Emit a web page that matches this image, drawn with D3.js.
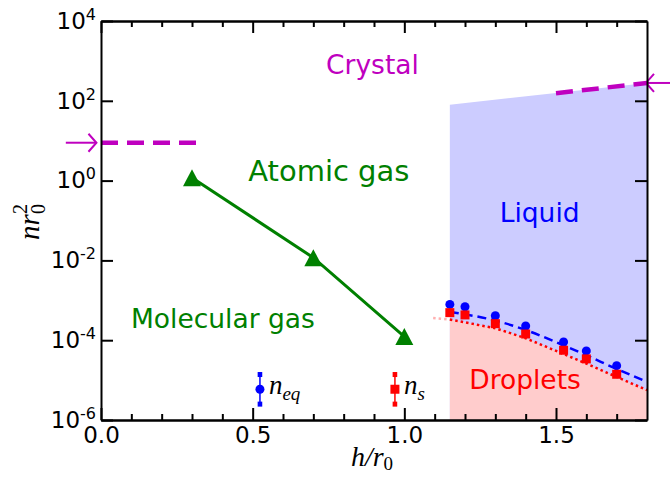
<!DOCTYPE html>
<html><head><meta charset="utf-8">
<script src="https://cdn.jsdelivr.net/npm/d3@7"></script>
<style>body{margin:0;background:#fff}svg{display:block}</style>
</head><body><svg id="c" width="670" height="478"></svg>
<script>
// ---------- data ----------
const xTicks = [0, 0.5, 1.0, 1.5];
const xTickLabels = ["0.0", "0.5", "1.0", "1.5"];
const xMinorTicks = [0.1,0.2,0.3,0.4,0.6,0.7,0.8,0.9,1.1,1.2,1.3,1.4,1.6,1.7];
const yTicks = [1e4, 1e2, 1e0, 1e-2, 1e-4, 1e-6];
const yTickExp = ["4", "2", "0", "-2", "-4", "-6"];

const atomicH = [0.3, 0.7, 1.0];
const atomicN = [1.18, 0.0117, 1.23e-4];

const pointH = [1.15, 1.2, 1.3, 1.4, 1.525, 1.6, 1.7];
const eqN = [7.9e-4, 6.9e-4, 4.1e-4, 2.27e-4, 9.0e-5, 5.4e-5, 2.3e-5];
const sN  = [4.9e-4, 4.3e-4, 2.6e-4, 1.43e-4, 5.6e-5, 3.4e-5, 1.4e-5];

const eqFitH = [1.15, 1.3, 1.4, 1.525, 1.6, 1.7, 1.8];
const eqFitN = [5.1e-4, 3.1e-4, 1.8e-4, 7.4e-5, 4.2e-5, 1.9e-5, 9.1e-6];
const sFitH = [1.15, 1.3, 1.4, 1.525, 1.6, 1.7, 1.8];
const sFitN = [3.3e-4, 2.0e-4, 1.12e-4, 4.5e-5, 2.6e-5, 1.2e-5, 5.6e-6];
const sFitExtH = [1.095, 1.15];
const sFitExtN = [3.6e-4, 3.3e-4];

const liquidTopH = [1.15, 1.8];
const liquidTopN = [80, 280];
const crystalRightH = [1.5, 1.8];
const crystalRightN = [155, 280];
const crystalLeftH = [0, 0.32];
const crystalLeftN = [8.9, 8.9];

const legendEq = {h: 0.524, n: 5.9e-6, lo: 2.5e-6, hi: 1.38e-5};
const legendS  = {h: 0.969, n: 5.9e-6, lo: 2.5e-6, hi: 1.38e-5};

const regionLabels = [
  {text: "Crystal", h: 0.895, n: 470, color: "#bf00bf", size: 26.5},
  {text: "Atomic gas", h: 0.751, n: 1.0, color: "#008000", size: 29},
  {text: "Liquid", h: 1.446, n: 0.091, color: "#0000ff", size: 26.5},
  {text: "Molecular gas", h: 0.402, n: 2.0e-4, color: "#008000", size: 26.5},
  {text: "Droplets", h: 1.398, n: 6.0e-6, color: "#ff0000", size: 26.5}
];

// ---------- setup ----------
const W = 670, H = 478;
const x0 = 101, x1 = 647, yTop = 21, yBot = 420;
const svg = d3.select("#c");
const x = d3.scaleLinear().domain([0, 1.8]).range([x0, x1]);
const y = d3.scaleLog().domain([1e-6, 1e4]).range([yBot, yTop]);
const MAG = "#bf00bf";

svg.append("defs").append("clipPath").attr("id", "clip")
  .append("rect").attr("x", x0).attr("y", yTop).attr("width", x1 - x0).attr("height", yBot - yTop);
const plot = svg.append("g").attr("clip-path", "url(#clip)");

// liquid region (blue)
const liqArea = d3.area().x(d => x(d[0])).y0(y(1e-6)).y1(d => y(d[1]));
plot.append("path").datum(liquidTopH.map((h, i) => [h, liquidTopN[i]]))
  .attr("d", liqArea).attr("fill", "#ccccff");
// droplets region (pink)
plot.append("path").datum(sFitH.map((h, i) => [h, sFitN[i]]))
  .attr("d", liqArea).attr("fill", "#ffcccc");

const line = d3.line().x(d => x(d[0])).y(d => y(d[1]));

// crystal dashed lines
plot.append("path").datum(crystalLeftH.map((h, i) => [h, crystalLeftN[i]]))
  .attr("d", line).attr("fill", "none").attr("stroke", MAG).attr("stroke-width", 4.5)
  .attr("stroke-dasharray", "17,9");
plot.append("path").datum(crystalRightH.map((h, i) => [h, crystalRightN[i]]))
  .attr("d", line).attr("fill", "none").attr("stroke", MAG).attr("stroke-width", 4.5)
  .attr("stroke-dasharray", "17,9");

// fits
plot.append("path").datum(eqFitH.map((h, i) => [h, eqFitN[i]]))
  .attr("d", d3.line().x(d => x(d[0])).y(d => y(d[1])).curve(d3.curveMonotoneX))
  .attr("fill", "none").attr("stroke", "#0000ff")
  .attr("stroke-width", 2.5).attr("stroke-dasharray", "9,5");
plot.append("path").datum(sFitExtH.map((h, i) => [h, sFitExtN[i]]))
  .attr("d", line).attr("fill", "none").attr("stroke", "#ffb0b0")
  .attr("stroke-width", 2.5).attr("stroke-dasharray", "2.5,3");
plot.append("path").datum(sFitH.map((h, i) => [h, sFitN[i]]))
  .attr("d", line).attr("fill", "none").attr("stroke", "#ff0000")
  .attr("stroke-width", 2.5).attr("stroke-dasharray", "2.5,3");

// atomic gas line + triangles
svg.append("path").datum(atomicH.map((h, i) => [h, atomicN[i]]))
  .attr("d", line).attr("fill", "none").attr("stroke", "#008000").attr("stroke-width", 3);
svg.selectAll(".tri").data(atomicH.map((h, i) => [h, atomicN[i]])).enter().append("path")
  .attr("transform", d => `translate(${x(d[0])},${y(d[1])})`)
  .attr("d", "M0,-8.5L9,8.5L-9,8.5Z").attr("fill", "#008000");

// data points
svg.selectAll(".eq").data(pointH.map((h, i) => [h, eqN[i]])).enter().append("circle")
  .attr("cx", d => x(d[0])).attr("cy", d => y(d[1])).attr("r", 4.5).attr("fill", "#0000ff");
svg.selectAll(".s").data(pointH.map((h, i) => [h, sN[i]])).enter().append("rect")
  .attr("x", d => x(d[0]) - 4.5).attr("y", d => y(d[1]) - 4.5).attr("width", 9).attr("height", 9)
  .attr("fill", "#ff0000");

// legend-like markers with error bars
function errMarker(o, color, shape) {
  const cx = x(o.h);
  svg.append("line").attr("x1", cx).attr("x2", cx).attr("y1", y(o.lo)).attr("y2", y(o.hi))
    .attr("stroke", color).attr("stroke-width", 1.5);
  [o.lo, o.hi].forEach(v => svg.append("rect").attr("x", cx - 2.3).attr("y", y(v) - 2.5)
    .attr("width", 4.6).attr("height", 5).attr("fill", color));
  if (shape === "circle") svg.append("circle").attr("cx", cx).attr("cy", y(o.n)).attr("r", 4.5).attr("fill", color);
  else svg.append("rect").attr("x", cx - 4.5).attr("y", y(o.n) - 4.5).attr("width", 9).attr("height", 9).attr("fill", color);
}
errMarker(legendEq, "#0000ff", "circle");
errMarker(legendS, "#ff0000", "square");

const SERIF = "'Liberation Serif', 'Times New Roman', serif";
function mathLabel(xp, yp, main, sub) {
  const t = svg.append("text").attr("x", xp).attr("y", yp).attr("font-family", SERIF)
    .attr("font-style", "italic").attr("font-size", 27).attr("fill", "#000");
  t.append("tspan").text(main);
  t.append("tspan").attr("dy", 6).attr("font-size", 19).text(sub);
}
mathLabel(x(legendEq.h) + 9, y(legendEq.n) + 5, "n", "eq");
mathLabel(x(legendS.h) + 9, y(legendS.n) + 5, "n", "s");

// region labels
svg.selectAll(".rl").data(regionLabels).enter().append("text")
  .attr("x", d => x(d.h)).attr("y", d => y(d.n)).attr("text-anchor", "middle")
  .attr("font-family", "'DejaVu Sans', sans-serif").attr("font-size", d => d.size)
  .attr("fill", d => d.color).text(d => d.text);

// arrows (annotations) pointing at the axes
function arrow(xFrom, xTip, yv, dir) {
  const yy = y(yv);
  svg.append("line").attr("x1", xFrom).attr("x2", xTip).attr("y1", yy).attr("y2", yy)
    .attr("stroke", MAG).attr("stroke-width", 2);
  svg.append("path").attr("d", `M${xTip - dir * 8},${yy - 9}L${xTip},${yy}L${xTip - dir * 8},${yy + 9}`)
    .attr("fill", "none").attr("stroke", MAG).attr("stroke-width", 2);
}
arrow(x(-0.116), x(-0.015), crystalLeftN[0], 1);
arrow(W + 2, x(1.8) - 1, crystalRightN[1], -1);

// ---------- axes ----------
const TICKFONT = "'DejaVu Sans', sans-serif";
const gx = svg.append("g").attr("transform", `translate(0,${yBot})`)
  .call(d3.axisBottom(x).tickValues(xTicks).tickSize(-12).tickSizeOuter(0).tickPadding(7)
    .tickFormat((d, i) => xTickLabels[i]));
svg.append("g").attr("transform", `translate(0,${yBot})`)
  .call(d3.axisBottom(x).tickValues(xMinorTicks).tickSize(-6).tickSizeOuter(0).tickFormat(() => ""));
svg.append("g").attr("transform", `translate(0,${yTop})`)
  .call(d3.axisTop(x).tickValues(xTicks).tickSize(-12).tickSizeOuter(0).tickFormat(() => ""));
svg.append("g").attr("transform", `translate(0,${yTop})`)
  .call(d3.axisTop(x).tickValues(xMinorTicks).tickSize(-6).tickSizeOuter(0).tickFormat(() => ""));
const gy = svg.append("g").attr("transform", `translate(${x0},0)`)
  .call(d3.axisLeft(y).tickValues(yTicks).tickSize(-12).tickSizeOuter(0).tickPadding(5).tickFormat(() => ""));
svg.append("g").attr("transform", `translate(${x1},0)`)
  .call(d3.axisRight(y).tickValues(yTicks).tickSize(-12).tickSizeOuter(0).tickFormat(() => ""));

svg.selectAll(".domain").attr("stroke", "#000").attr("stroke-width", 2);
svg.selectAll(".tick line").attr("stroke", "#000").attr("stroke-width", 2);
gx.selectAll(".tick text").attr("font-family", TICKFONT).attr("font-size", 23).attr("fill", "#000");
gy.selectAll(".tick text").each(function(d) {
  const t = d3.select(this);
  t.text(null).attr("font-family", TICKFONT).attr("font-size", 23).attr("fill", "#000");
  t.append("tspan").text("10");
  t.append("tspan").attr("dy", -9).attr("font-size", 16).text(yTickExp[yTicks.indexOf(d)]);
});

// axis labels
const xl = svg.append("text").attr("x", 372).attr("y", 466).attr("text-anchor", "middle")
  .attr("font-family", SERIF).attr("font-style", "italic").attr("font-size", 28);
xl.append("tspan").text("h/r");
xl.append("tspan").attr("dy", 4).attr("font-size", 19).attr("font-style", "normal").text("0");

const yl = svg.append("text").attr("transform", "translate(39,222) rotate(-90)").attr("text-anchor", "middle")
  .attr("font-family", SERIF).attr("font-style", "italic").attr("font-size", 29);
yl.append("tspan").text("nr");
yl.append("tspan").attr("dy", -12).attr("font-size", 20).attr("font-style", "normal").text("2");
yl.append("tspan").attr("dx", -10).attr("dy", 18).attr("font-size", 20).attr("font-style", "normal").text("0");
</script></body></html>
